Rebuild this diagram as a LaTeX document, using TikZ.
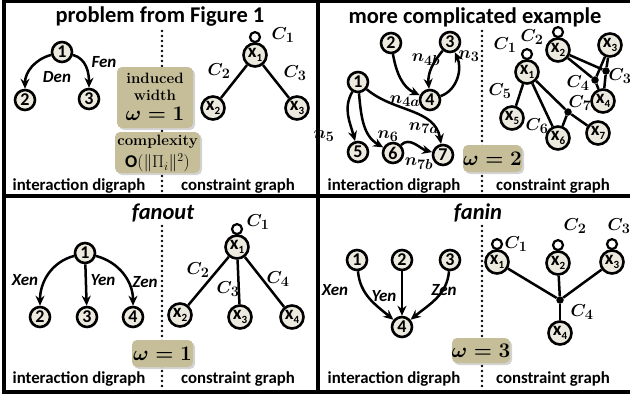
\documentclass[tikz,border=0pt]{standalone}
\usepackage{fontspec}
\setsansfont{Carlito}
\usetikzlibrary{arrows.meta,shadows}

\definecolor{nodefill}{RGB}{236,234,222}
\definecolor{khaki}{RGB}{197,190,152}

\newcommand\titlefont{\sffamily\bfseries\fontsize{22.5}{22.5}\selectfont}
\newcommand\captfont{\sffamily\bfseries\fontsize{16.8}{16.8}\selectfont}
\newcommand\xv[1]{\textbf{x}\raisebox{-0.5ex}{\fontsize{11}{11}\selectfont\bfseries #1}}

\tikzset{
  dnode/.style={circle, draw, line width=2.6pt, fill=nodefill, inner sep=0pt,
    minimum size=20pt, font=\sffamily\bfseries\fontsize{18}{18}\selectfont},
  xnode/.style={circle, draw, line width=2.6pt, fill=nodefill, inner sep=0pt,
    minimum size=23pt, font=\sffamily\fontsize{19}{19}\selectfont},
  arc/.style={-{Stealth[length=10pt,width=9pt]}, line width=2.5pt},
  tie/.style={line width=2.5pt},
  loopc/.style={circle, draw, line width=2.2pt, fill=white, inner sep=0pt,
    minimum size=10pt, anchor=south},
  hdot/.style={circle, fill=black, inner sep=0pt, minimum size=7.5pt},
  clab/.style={font=\boldmath\fontsize{19}{19}\selectfont, inner sep=0pt},
  elab/.style={font=\sffamily\bfseries\itshape\fontsize{17}{17}\selectfont, inner sep=0pt},
  wbox/.style={rounded corners=5pt, fill=khaki,
    drop shadow={opacity=0.35, shadow xshift=2pt, shadow yshift=-2pt}},
  omg/.style={font=\boldmath\fontsize{21}{21}\selectfont, inner sep=0pt},
  boxt/.style={font=\bfseries\fontsize{15}{15}\selectfont, inner sep=0pt},
  sep/.style={line width=2.6pt, line cap=round, dash pattern=on 0pt off 5pt},
  frame/.style={line width=3.2pt},
  ttl/.style={font=\titlefont, inner sep=0pt},
  capt/.style={font=\captfont, inner sep=0pt},
}

\begin{document}
\begin{tikzpicture}[x=1pt,y=1pt]
\useasboundingbox (0,0) rectangle (630,-399);

% ---------- frame ----------
\draw[frame] (632,-1.5) -- (4,-1.5) -- (4,-392) -- (632,-392);
\draw[frame] (4,-196) -- (632,-196);
\draw[frame] (318,-1.5) -- (318,-392);

% ---------- separators between the two halves of each panel ----------
\draw[sep] (162,-31) -- (162,-191);
\draw[sep] (482,-31) -- (482,-191);
\draw[sep] (162,-226) -- (162,-386);
\draw[sep] (482,-226) -- (482,-386);

% ---------- captions ----------
\foreach \dx/\dy in {0/0, 315/0, 0/-193, 315/-193}{
  \node[capt] (cl\dx\dy) at (79+\dx,-186+\dy) {interaction digraph};
  \node[capt] (cr\dx\dy) at (238+\dx,-186+\dy) {constraint graph};
}

% ================= panel: problem from Figure 1 =================
\node[ttl] (t1) at (160,-17) {problem from Figure 1};

\node[dnode] (a1) at (62,-52) {1};
\node[dnode] (a2) at (25,-100) {2};
\node[dnode] (a3) at (89,-99) {3};
\draw[arc] (a1) to[out=195,in=90] (a2);
\draw[arc] (a1) to[out=-15,in=90] (a3);
\node[elab] (la1) at (57,-77) {Den};
\node[elab] (la2) at (104,-62) {Fen};

\node[xnode] (b1) at (255,-55) {\xv1};
\node[xnode] (b2) at (213,-108) {\xv2};
\node[xnode] (b3) at (297,-108) {\xv3};
\draw[tie] (b1) -- (b2);
\draw[tie] (b1) -- (b3);
\node[loopc] (lb1) at ([yshift=-1pt]b1.north) {};
\node[clab] (cb1) at (283,-35) {$C_1$};
\node[clab] (cb2) at (219,-71) {$C_2$};
\node[clab] (cb3) at (295,-73) {$C_3$};

\node[wbox, minimum width=76pt, minimum height=61pt] (w1) at (155,-97.5) {};
\node[boxt] (w1a) at (155,-78) {induced};
\node[boxt] (w1b) at (155,-95) {width};
\node[omg] (w1c) at (155,-114) {$\omega=1$};
\node[wbox, minimum width=85pt, minimum height=41pt] (w2) at (157.5,-152.5) {};
\node[boxt] (w2a) at (157.5,-142) {complexity};
\node[font=\fontsize{18}{18}\selectfont, inner sep=0pt] (w2b) at (157.5,-163) {{\sffamily\bfseries O}$(\|\Pi_i\|^2)$};

% ================= panel: more complicated example =================
\node[ttl] (t2) at (475,-17) {more complicated example};

\node[dnode] (m1) at (358,-82) {1};
\node[dnode] (m2) at (391,-43) {2};
\node[dnode] (m3) at (450,-42) {3};
\node[dnode] (m4) at (430,-100) {4};
\node[dnode] (m5) at (358,-152) {5};
\node[dnode] (m6) at (393,-153) {6};
\node[dnode] (m7) at (443,-155) {7};
\draw[arc] (m2) to[out=-80,in=155] (m4);
\draw[arc] (m3) to[out=230,in=95] (m4);
\draw[arc] (m4) to[out=20,in=-65] (m3);
\draw[arc] (m1) to[out=240,in=105] (m5);
\draw[arc] (m1) to[out=-85,in=150] (m6);
\draw[arc] (m1) to[out=-40,in=100] (m7);
\draw[arc] (m6) to[out=45,in=165] (m7);
\node[clab] (ln4b) at (426,-60) {$n_{4b}$};
\node[clab] (ln3) at (469,-56) {$n_{3}$};
\node[clab] (ln4a) at (405,-101) {$n_{4a}$};
\node[clab] (ln5) at (324,-136) {$n_{5}$};
\node[clab] (ln6) at (388,-136) {$n_{6}$};
\node[clab] (ln7a) at (424,-128) {$n_{7a}$};
\node[clab] (ln7b) at (419,-164) {$n_{7b}$};

\node[xnode] (y1) at (527,-72) {\xv1};
\node[xnode] (y2) at (558,-50) {\xv2};
\node[xnode] (y3) at (610,-45) {\xv3};
\node[xnode] (y4) at (603,-101) {\xv4};
\node[xnode] (y5) at (512,-118) {\xv5};
\node[xnode] (y6) at (558,-138) {\xv6};
\node[xnode] (y7) at (598,-133) {\xv7};
\node[hdot] (d3) at (606,-71) {};
\node[hdot] (d4) at (595,-80) {};
\node[hdot] (d7) at (568,-112) {};
\draw[tie] (y2) -- (d3) -- (y3);
\draw[tie] (d3) -- (y4);
\draw[tie] (y2) -- (d4) -- (y3);
\draw[tie] (d4) -- (y4);
\draw[tie] (y1) -- (y5);
\draw[tie] (y1) -- (y6);
\draw[tie] (y1) -- (d7) -- (y7);
\draw[tie] (d7) -- (y6);
\node[loopc] (ly1) at ([yshift=-1pt]y1.north) {};
\node[loopc] (ly2) at ([yshift=-1pt]y2.north) {};
\node[clab] (cy1) at (505,-45) {$C_1$};
\node[clab] (cy2) at (532,-37) {$C_2$};
\node[clab] (cy3) at (620,-76) {$C_3$};
\node[clab] (cy4) at (578,-83) {$C_4$};
\node[clab] (cy5) at (500,-91) {$C_5$};
\node[clab] (cy6) at (537,-126) {$C_6$};
\node[clab] (cy7) at (580,-103) {$C_7$};

\node[wbox, minimum width=59pt, minimum height=27pt] (w3) at (492.5,-158.5) {};
\node[omg] (w3a) at (492.5,-158.5) {$\omega=2$};

% ================= panel: fanout =================
\node[ttl, font=\titlefont\itshape] (t3) at (163,-213) {fanout};

\node[dnode] (f1) at (85,-253) {1};
\node[dnode] (f2) at (40,-317) {2};
\node[dnode] (f3) at (87,-317) {3};
\node[dnode] (f4) at (133,-317) {4};
\draw[arc] (f1) to[out=195,in=90] (f2);
\draw[arc] (f1) -- (f3);
\draw[arc] (f1) to[out=-15,in=90] (f4);
\node[elab] (lf1) at (25,-280) {Xen};
\node[elab] (lf2) at (103,-280) {Yen};
\node[elab] (lf3) at (145,-282) {Zen};

\node[xnode] (g1) at (237,-247) {\xv1};
\node[xnode] (g2) at (180,-315) {\xv2};
\node[xnode] (g3) at (240,-317) {\xv3};
\node[xnode] (g4) at (292,-317) {\xv4};
\draw[tie] (g1) -- (g2);
\draw[tie] (g1) -- (g3);
\draw[tie] (g1) -- (g4);
\node[loopc] (lg1) at ([yshift=-1pt]g1.north) {};
\node[clab] (cg1) at (258,-222) {$C_1$};
\node[clab] (cg2) at (198,-270) {$C_2$};
\node[clab] (cg3) at (228,-289) {$C_3$};
\node[clab] (cg4) at (278,-279) {$C_4$};

\node[wbox, minimum width=61pt, minimum height=27pt] (w4) at (162.5,-353.5) {};
\node[omg] (w4a) at (162.5,-353.5) {$\omega=1$};

% ================= panel: fanin =================
\node[ttl, font=\titlefont\itshape] (t4) at (478,-213) {fanin};

\node[dnode] (h1) at (357,-260) {1};
\node[dnode] (h2) at (402,-260) {2};
\node[dnode] (h3) at (450,-260) {3};
\node[dnode] (h4) at (402,-327) {4};
\draw[arc] (h1) to[out=-85,in=140] (h4);
\draw[arc] (h2) -- (h4);
\draw[arc] (h3) to[out=-95,in=40] (h4);
\node[elab] (lh1) at (335,-290) {Xen};
\node[elab] (lh2) at (384,-296) {Yen};
\node[elab] (lh3) at (444,-290) {Zen};

\node[xnode] (k1) at (497,-262) {\xv1};
\node[xnode] (k2) at (558,-263) {\xv2};
\node[xnode] (k3) at (612,-262) {\xv3};
\node[xnode] (k4) at (560,-333) {\xv4};
\node[hdot] (dk) at (560,-300) {};
\draw[tie] (k1) -- (dk);
\draw[tie] (k2) -- (dk);
\draw[tie] (k3) -- (dk);
\draw[tie] (dk) -- (k4);
\node[loopc] (lk1) at ([yshift=-1pt]k1.north) {};
\node[loopc] (lk2) at ([yshift=-1pt]k2.north) {};
\node[loopc] (lk3) at ([yshift=-1pt]k3.north) {};
\node[clab] (ck1) at (516,-244) {$C_1$};
\node[clab] (ck2) at (575,-226) {$C_2$};
\node[clab] (ck3) at (619,-226) {$C_3$};
\node[clab] (ck4) at (582,-312) {$C_4$};

\node[wbox, minimum width=58pt, minimum height=25pt] (w5) at (481,-350.5) {};
\node[omg] (w5a) at (481,-350.5) {$\omega=3$};
\end{tikzpicture}
\end{document}
